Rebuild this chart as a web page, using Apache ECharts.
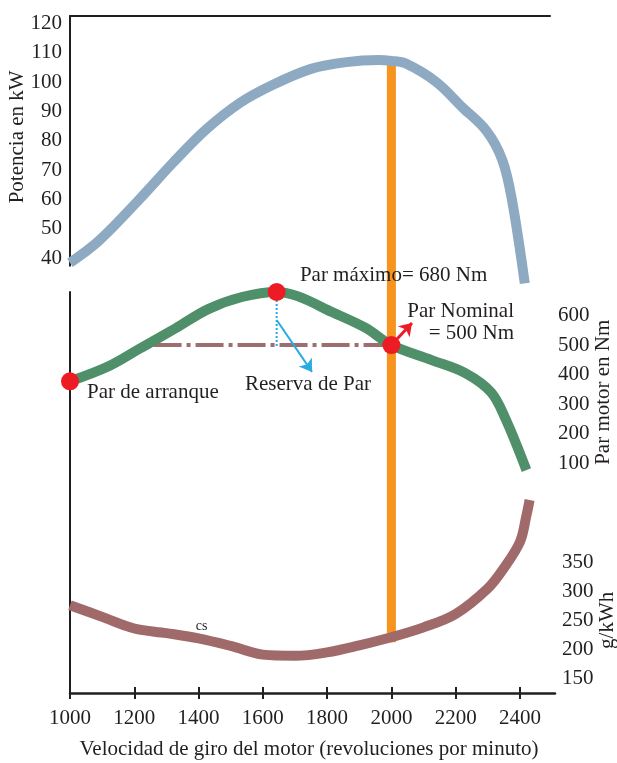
<!DOCTYPE html>
<html>
<head>
<meta charset="utf-8">
<script src="https://cdn.jsdelivr.net/npm/echarts@6/dist/echarts.min.js"></script>
<style>
  html, body { margin: 0; padding: 0; background: #fff; }
  #c { width: 617px; height: 763px; }
</style>
</head>
<body>
<div id="c"></div>
<script>
// Axis tick values
const rpmTicks = [1000, 1200, 1400, 1600, 1800, 2000, 2200, 2400];
const powerTicks = [40, 50, 60, 70, 80, 90, 100, 110, 120];
const torqueTicks = [100, 200, 300, 400, 500, 600];
const bsfcTicks = [150, 200, 250, 300, 350];

// Power curve (kW)
const powerRpm = [1000, 1090, 1215, 1320, 1425, 1530, 1630, 1750, 1860, 1960, 2000, 2045, 2140, 2220, 2295, 2345, 2375, 2415];
const powerKw  = [38.5, 46, 60, 72.5, 84, 93, 99, 104.5, 106.8, 107.5, 107.2, 106.3, 100, 91.5, 83.5, 73.5, 60, 31.5];

// Torque curve (Nm)
const torqueRpm = [1000, 1120, 1220, 1330, 1430, 1535, 1643, 1710, 1815, 1920, 2000, 2125, 2230, 2310, 2355, 2420];
const torqueNm  = [377, 428, 490, 558, 622, 663, 680, 665, 612, 558, 500, 449, 405, 340, 250, 76];

// Specific fuel consumption (g/kWh)
const bsfcRpm  = [1000, 1100, 1200, 1300, 1400, 1500, 1600, 1700, 1800, 1900, 2000, 2100, 2200, 2300, 2350, 2400, 2420, 2430];
const bsfcGkwh = [276, 256, 236, 228, 219, 206, 191, 189, 195, 207, 221, 238, 261, 305, 340, 385, 430, 457];

// Characteristic torque points: start, maximum, nominal
const keyRpm = [1000, 1643, 2000];
const keyNm  = [377, 680, 500];

// Torque reserve: reference level drawn from this speed up to nominal speed
const reserveStartRpm = 1260;
const reserveEndNm = 490;
// Arrow end points for the annotations (rpm, Nm)
const reserveArrow = [[1643, 585], [1753, 409]];
const maxArrowTip = [1709, 748];
const nomArrowTip = [2064, 575];

const FONT = '"Liberation Serif", "Times New Roman", serif';
const FS = 21;
const INK = '#231f20';
const C_POWER = '#8eaac3';
const C_TORQUE = '#4f906a';
const C_BSFC = '#a06a6a';
const C_RED = '#ed1c24';
const C_ORANGE = '#f7941d';
const C_CYAN = '#29abe2';

const zip = (a, b) => a.map((v, i) => [v, b[i]]);
const noSplit = { show: false };
const plain = v => String(v);

const option = {
  animation: false,
  backgroundColor: '#fff',
  textStyle: { fontFamily: FONT, color: INK },
  grid: [
    { left: 70, top: 16, width: 480, height: 249.7, outerBoundsMode: 'none', containLabel: false },
    { left: 70, top: 292, width: 485, height: 200.5, outerBoundsMode: 'none', containLabel: false },
    { left: 70, top: 492.5, width: 485, height: 200.5, outerBoundsMode: 'none', containLabel: false }
  ],
  xAxis: [
    { gridIndex: 0, type: 'value', position: 'top', min: 1000, max: 2493.5, interval: 200,
      axisLine: { show: true, lineStyle: { color: INK, width: 2 } },
      axisTick: { show: false }, axisLabel: { show: false }, splitLine: noSplit },
    { gridIndex: 1, type: 'value', min: 1000, max: 2509, interval: 200, show: false, splitLine: noSplit },
    { gridIndex: 2, type: 'value', position: 'bottom', min: 1000, max: 2509, interval: 200,
      axisLine: { show: true, lineStyle: { color: INK, width: 2.5 } },
      axisTick: { show: true, length: 6, customValues: rpmTicks, lineStyle: { color: INK, width: 2 } },
      axisLabel: { customValues: rpmTicks, formatter: plain, fontSize: FS, margin: 15, color: INK, fontFamily: FONT },
      splitLine: noSplit,
      name: 'Velocidad de giro del motor (revoluciones por minuto)',
      nameLocation: 'middle', nameGap: 46, nameMoveOverlap: false,
      nameTextStyle: { fontSize: FS, color: INK, fontFamily: FONT, padding: [0, 7, 0, 0] } },
    { gridIndex: 2, type: 'value', position: 'bottom', min: 1000, max: 2509, interval: 200,
      axisLine: { show: false },
      axisTick: { show: true, inside: true, length: 6, customValues: rpmTicks, lineStyle: { color: INK, width: 2 } },
      axisLabel: { show: false }, splitLine: noSplit }
  ],
  yAxis: [
    { gridIndex: 0, type: 'value', position: 'left', min: 37.5, max: 122.5, interval: 2.5,
      axisLine: { show: true, lineStyle: { color: INK, width: 2 } },
      axisTick: { show: false },
      axisLabel: { customValues: powerTicks, formatter: plain, fontSize: FS, margin: 8, color: INK, fontFamily: FONT },
      splitLine: noSplit,
      name: 'Potencia en kW', nameLocation: 'middle', nameRotate: 90, nameGap: 42, nameMoveOverlap: false,
      nameTextStyle: { fontSize: FS, color: INK, fontFamily: FONT, padding: [0, 0, 0, 8] } },
    { gridIndex: 1, type: 'value', position: 'right', min: 0, max: 680, interval: 100,
      axisLine: { show: false }, axisTick: { show: false },
      axisLabel: { customValues: torqueTicks, formatter: plain, fontSize: FS, margin: 3, color: INK, fontFamily: FONT },
      splitLine: noSplit,
      name: 'Par motor en Nm', nameLocation: 'middle', nameRotate: 90, nameGap: 38, nameMoveOverlap: false,
      nameTextStyle: { fontSize: FS, color: INK, fontFamily: FONT } },
    { gridIndex: 1, type: 'value', position: 'left', min: 0, max: 680, interval: 100,
      axisLine: { show: true, lineStyle: { color: INK, width: 2 } },
      axisTick: { show: false }, axisLabel: { show: false }, splitLine: noSplit },
    { gridIndex: 2, type: 'value', position: 'right', min: 125, max: 470, interval: 25,
      axisLine: { show: false }, axisTick: { show: false },
      axisLabel: { customValues: bsfcTicks, formatter: plain, fontSize: FS, margin: 7, color: INK, fontFamily: FONT },
      splitLine: noSplit },
    { gridIndex: 2, type: 'value', position: 'left', min: 125, max: 470, interval: 25,
      axisLine: { show: true, lineStyle: { color: INK, width: 2 } },
      axisTick: { show: false }, axisLabel: { show: false }, splitLine: noSplit }
  ],
  series: [
    { name: 'Potencia', type: 'line', xAxisIndex: 0, yAxisIndex: 0, clip: false,
      data: zip(powerRpm, powerKw), smooth: 0.35, showSymbol: false, symbol: 'none',
      lineStyle: { color: C_POWER, width: 10, cap: 'butt' }, z: 3 },
    { name: 'Par motor', type: 'line', xAxisIndex: 1, yAxisIndex: 1, clip: false,
      data: zip(torqueRpm, torqueNm), smooth: 0.35, showSymbol: false, symbol: 'none',
      lineStyle: { color: C_TORQUE, width: 10, cap: 'butt' }, z: 3 },
    { name: 'cs', type: 'line', xAxisIndex: 2, yAxisIndex: 3, clip: false,
      data: zip(bsfcRpm, bsfcGkwh), smooth: 0.35, showSymbol: false, symbol: 'none',
      lineStyle: { color: C_BSFC, width: 10, cap: 'butt' }, z: 3 },
    // nominal torque level used as reference for the torque reserve
    { name: 'nivel', type: 'line', xAxisIndex: 1, yAxisIndex: 1, clip: false,
      data: [[reserveStartRpm, keyNm[2]], [keyRpm[2], keyNm[2]]], showSymbol: false, symbol: 'none',
      lineStyle: { color: '#9e6e6e', width: 4, type: [28, 5, 4, 5] }, z: 2 },
    // reserve: from maximum torque down to the nominal level
    { name: 'reserva', type: 'line', xAxisIndex: 1, yAxisIndex: 1, clip: false,
      data: [[keyRpm[1], keyNm[1]], [keyRpm[1], reserveEndNm]], showSymbol: false, symbol: 'none',
      lineStyle: { color: C_CYAN, width: 2, type: [2, 2] }, z: 4 },
    // annotation arrows
    { name: 'flechas', type: 'line', xAxisIndex: 1, yAxisIndex: 1, clip: false, data: [],
      markLine: {
        silent: true, animation: false, label: { show: false },
        symbolSize: 12,
        data: [
          [ { coord: reserveArrow[0], symbol: 'none', lineStyle: { color: C_CYAN, width: 2, type: 'solid' } },
            { coord: reserveArrow[1], symbol: 'arrow', lineStyle: { color: C_CYAN, width: 2, type: 'solid' } } ],
          [ { coord: [keyRpm[1], keyNm[1]], symbol: 'none', lineStyle: { color: C_RED, width: 3, type: 'solid' } },
            { coord: maxArrowTip, symbol: 'arrow', lineStyle: { color: C_RED, width: 3, type: 'solid' } } ],
          [ { coord: [keyRpm[2], keyNm[2]], symbol: 'none', lineStyle: { color: C_RED, width: 3, type: 'solid' } },
            { coord: nomArrowTip, symbol: 'arrow', lineStyle: { color: C_RED, width: 3, type: 'solid' } } ]
        ]
      }, z: 5 },
    { name: 'puntos', type: 'scatter', xAxisIndex: 1, yAxisIndex: 1, clip: false,
      data: zip(keyRpm, keyNm), symbolSize: 18,
      itemStyle: { color: C_RED, opacity: 1 }, z: 10 }
  ]
};

const chart = echarts.init(document.getElementById('c'), null, { renderer: 'canvas' });
chart.setOption(option);

// pixel positions from the series' own axes
const toPx = (seriesIndex, pt) => chart.convertToPixel({ seriesIndex }, pt);
const nomIdxPower = powerRpm.indexOf(keyRpm[2]);
const nomIdxBsfc = bsfcRpm.indexOf(keyRpm[2]);
const topPt = toPx(0, [keyRpm[2], powerKw[nomIdxPower]]);
const botPt = toPx(2, [keyRpm[2], bsfcGkwh[nomIdxBsfc]]);

const startPt = toPx(1, [keyRpm[0], keyNm[0]]);
const maxTip = toPx(1, maxArrowTip);
const nomTip = toPx(1, nomArrowTip);
const resTip = toPx(1, reserveArrow[1]);
const csPt = toPx(2, [1400, bsfcGkwh[bsfcRpm.indexOf(1400)]]);
// unit title of the consumption axis sits level with its 250 tick
const bsfcTitleY = chart.convertToPixel({ yAxisIndex: 3 }, 250);
const bsfcTitleX = chart.convertToPixel({ xAxisIndex: 2 }, 2509) + 52;

const txt = (x, y, text, align, vAlign, size) => ({
  type: 'text', x, y, z: 20, silent: true,
  style: {
    text, fill: INK, font: (size || FS) + 'px ' + FONT,
    align, textAlign: align, verticalAlign: vAlign, textVerticalAlign: vAlign,
    lineHeight: 22
  }
});

const bsfcTitle = txt(bsfcTitleX, bsfcTitleY, 'g/kWh', 'center', 'middle');
bsfcTitle.rotation = Math.PI / 2;

chart.setOption({
  graphic: { elements: [
    // nominal speed line
    { type: 'line', z: 1, silent: true,
      shape: { x1: topPt[0], y1: topPt[1], x2: botPt[0], y2: botPt[1] + 5 },
      style: { stroke: C_ORANGE, lineWidth: 9 } },
    txt(startPt[0] + 17, startPt[1] + 11, 'Par de arranque', 'left', 'middle'),
    txt(maxTip[0] + 2, maxTip[1] + 4, 'Par máximo= 680 Nm', 'left', 'middle'),
    txt(resTip[0] - 4, resTip[1] + 13, 'Reserva de Par', 'center', 'middle'),
    txt(nomTip[0] + 102, nomTip[1], 'Par Nominal\n= 500 Nm', 'right', 'middle'),
    txt(csPt[0] + 3, csPt[1] - 12, 'cs', 'center', 'middle', 14),
    bsfcTitle
  ] }
});
</script>
</body>
</html>
